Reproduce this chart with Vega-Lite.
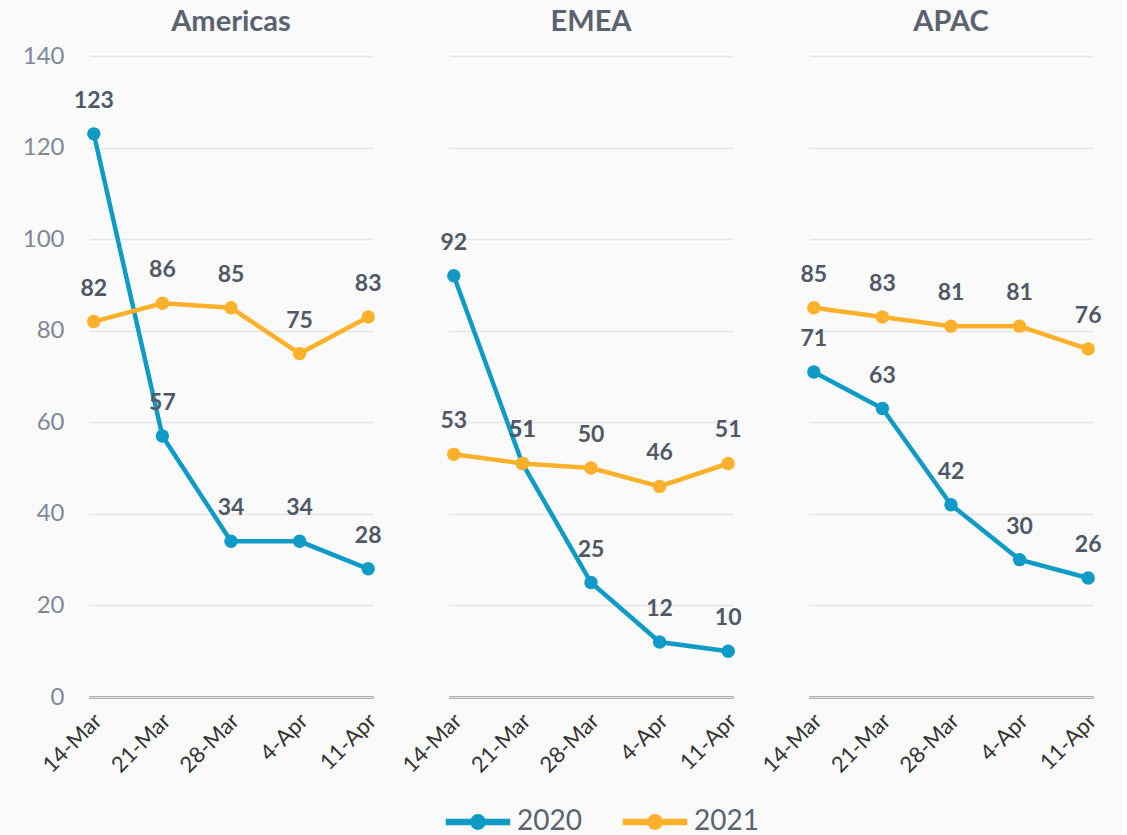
{
  "$schema": "https://vega.github.io/schema/vega-lite/v6.json",
  "background": "#fafafa",
  "padding": {"left": 22, "top": 8, "right": 20, "bottom": 5},
  "config": {
    "view": {"stroke": null},
    "font": "Lato"
  },
  "data": {"values": [
    {"region": "Americas", "date": "14-Mar", "year": "2020", "value": 123},
    {"region": "Americas", "date": "21-Mar", "year": "2020", "value": 57},
    {"region": "Americas", "date": "28-Mar", "year": "2020", "value": 34},
    {"region": "Americas", "date": "4-Apr", "year": "2020", "value": 34},
    {"region": "Americas", "date": "11-Apr", "year": "2020", "value": 28},
    {"region": "Americas", "date": "14-Mar", "year": "2021", "value": 82},
    {"region": "Americas", "date": "21-Mar", "year": "2021", "value": 86},
    {"region": "Americas", "date": "28-Mar", "year": "2021", "value": 85},
    {"region": "Americas", "date": "4-Apr", "year": "2021", "value": 75},
    {"region": "Americas", "date": "11-Apr", "year": "2021", "value": 83},
    {"region": "EMEA", "date": "14-Mar", "year": "2020", "value": 92},
    {"region": "EMEA", "date": "21-Mar", "year": "2020", "value": 51},
    {"region": "EMEA", "date": "28-Mar", "year": "2020", "value": 25},
    {"region": "EMEA", "date": "4-Apr", "year": "2020", "value": 12},
    {"region": "EMEA", "date": "11-Apr", "year": "2020", "value": 10},
    {"region": "EMEA", "date": "14-Mar", "year": "2021", "value": 53},
    {"region": "EMEA", "date": "21-Mar", "year": "2021", "value": 51},
    {"region": "EMEA", "date": "28-Mar", "year": "2021", "value": 50},
    {"region": "EMEA", "date": "4-Apr", "year": "2021", "value": 46},
    {"region": "EMEA", "date": "11-Apr", "year": "2021", "value": 51},
    {"region": "APAC", "date": "14-Mar", "year": "2020", "value": 71},
    {"region": "APAC", "date": "21-Mar", "year": "2020", "value": 63},
    {"region": "APAC", "date": "28-Mar", "year": "2020", "value": 42},
    {"region": "APAC", "date": "4-Apr", "year": "2020", "value": 30},
    {"region": "APAC", "date": "11-Apr", "year": "2020", "value": 26},
    {"region": "APAC", "date": "14-Mar", "year": "2021", "value": 85},
    {"region": "APAC", "date": "21-Mar", "year": "2021", "value": 83},
    {"region": "APAC", "date": "28-Mar", "year": "2021", "value": 81},
    {"region": "APAC", "date": "4-Apr", "year": "2021", "value": 81},
    {"region": "APAC", "date": "11-Apr", "year": "2021", "value": 76}
  ]},
  "facet": {
    "column": {
      "field": "region", "type": "nominal", "sort": ["Americas", "EMEA", "APAC"],
      "header": {"title": null, "labelFont": "Lato", "labelFontSize": 29, "labelFontWeight": "bold", "labelColor": "#5b6370", "labelPadding": 19}
    }
  },
  "spacing": 58,
  "spec": {
    "width": 284,
    "height": 641,
    "encoding": {
      "x": {
        "field": "date", "type": "ordinal",
        "sort": ["14-Mar", "21-Mar", "28-Mar", "4-Apr", "11-Apr"],
        "scale": {"type": "point", "padding": 0.07},
        "axis": {"title": null, "labelAngle": -45, "labelAlign": "right", "labelBaseline": "middle", "labelPadding": 20, "labelOffset": 4, "labelFontSize": 22, "labelColor": "#333333", "ticks": false, "domainColor": "#404040", "domainWidth": 2, "grid": false}
      },
      "y": {
        "field": "value", "type": "quantitative",
        "scale": {"domain": [0, 140], "nice": false},
        "axis": {"title": null, "values": [0, 20, 40, 60, 80, 100, 120, 140], "domain": false, "ticks": false, "labelPadding": 9, "labelFontSize": 24, "labelColor": "#7f8996", "gridColor": "#e6e6e6", "gridWidth": 1.5}
      },
      "color": {
        "field": "year", "type": "nominal",
        "scale": {"domain": ["2020", "2021"], "range": ["#0f9bc6", "#fdb12b"]},
        "legend": {
          "orient": "none", "legendX": 375, "legendY": 752, "direction": "horizontal", "title": null,
          "labelFontSize": 28, "labelColor": "#5b6370",
          "symbolType": "M-3.15,-0.25 L3.15,-0.25 L3.15,0.25 L-3.15,0.25 Z M0.72,0 A0.72,0.72 0 1,1 -0.72,0 A0.72,0.72 0 1,1 0.72,0 Z",
          "symbolSize": 400, "labelOffset": 25, "columnPadding": 38,
          "encode": {"symbols": {"update": {"fill": {"scale": "color", "field": "value"}, "stroke": {"value": "transparent"}, "opacity": {"value": 1}}}}
        }
      }
    },
    "layer": [
      {"mark": {"type": "line", "strokeWidth": 4.5}},
      {"mark": {"type": "point", "filled": true, "size": 180, "opacity": 1}},
      {
        "mark": {"type": "text", "dy": -33, "font": "Lato", "fontSize": 23, "fontWeight": "bold"},
        "encoding": {"text": {"field": "value", "type": "quantitative"}, "color": {"value": "#505866"}}
      }
    ]
  }
}
